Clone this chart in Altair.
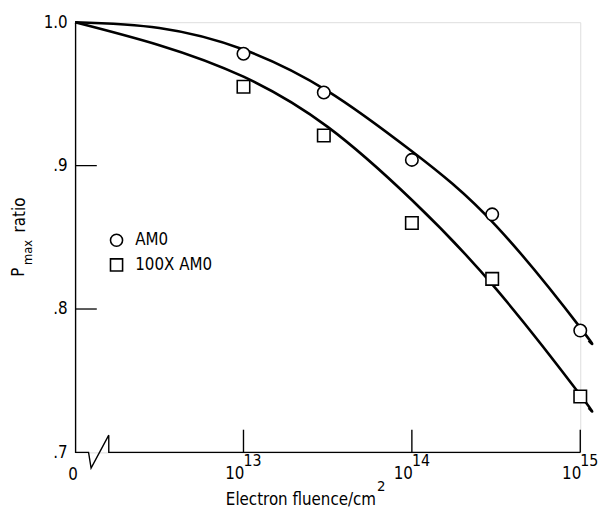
import altair as alt
import pandas as pd

# ---- data ----
series = ["AM0", "100X AM0"]
log_fluence = [13.0, 13.477, 14.0, 14.477, 15.0]      # log10(electron fluence / cm^2): 1e13, 3e13, 1e14, 3e14, 1e15
am0_ratio = [0.978, 0.951, 0.904, 0.866, 0.785]
x100_ratio = [0.955, 0.921, 0.860, 0.821, 0.739]

curve_x = [12.0, 12.5, 13.0, 13.5, 14.0, 14.5, 15.0, 15.05]
am0_curve = [1.0, 0.996, 0.981, 0.952, 0.910, 0.858, 0.787, 0.778]
x100_curve = [1.0, 0.984, 0.962, 0.927, 0.876, 0.814, 0.740, 0.731]

y_ticks = [0.7, 0.8, 0.9, 1.0]
y_inner_ticks = [0.8, 0.9]
x_ticks = [13, 14, 15]
x_exps = ["13", "14", "15"]

FONT = "Liberation Sans Narrow, DejaVu Sans Condensed, Roboto Condensed, DejaVu Sans"

pts = pd.DataFrame({
    "x": log_fluence * 2,
    "y": am0_ratio + x100_ratio,
    "series": [series[0]] * len(log_fluence) + [series[1]] * len(log_fluence),
})
curves = pd.DataFrame({
    "x": curve_x * 2,
    "y": am0_curve + x100_curve,
    "series": [series[0]] * len(curve_x) + [series[1]] * len(curve_x),
})

xs = alt.Scale(domain=[12, 15], nice=False, zero=False)
ys = alt.Scale(domain=[0.7, 1.0], nice=False, zero=False)
shape_scale = alt.Scale(domain=series, range=["circle", "square"])

yaxis = alt.Axis(
    values=y_ticks, ticks=False, grid=False, domain=True, domainColor="black",
    domainWidth=1.4, title=None, labelFont=FONT, labelFontSize=17, labelColor="black",
    labelPadding=8,
    labelExpr="datum.value >= 1 ? '1.0' : '.' + format(datum.value * 10, '.0f')",
)

curve_layer = alt.Chart(curves).mark_line(
    color="black", strokeWidth=2.6, interpolate="natural"
).encode(
    x=alt.X("x:Q", scale=xs, axis=None),
    y=alt.Y("y:Q", scale=ys, axis=yaxis),
    detail="series:N",
)

point_layer = alt.Chart(pts).mark_point(
    filled=True, fill="white", stroke="black", strokeWidth=1.6, size=160, opacity=1
).encode(
    x=alt.X("x:Q", scale=xs),
    y=alt.Y("y:Q", scale=ys),
    shape=alt.Shape("series:N", scale=shape_scale, legend=None),
)

# legend drawn as marks (one row per series)
legend_layers = []
for k, name in enumerate(series):
    row_y = 221 + 25 * k
    d = pd.DataFrame({"series": [name]})
    legend_layers.append(
        alt.Chart(d).mark_point(
            filled=True, fill="white", stroke="black", strokeWidth=1.6, size=150, opacity=1
        ).encode(
            x=alt.value(42), y=alt.value(row_y),
            shape=alt.Shape("series:N", scale=shape_scale, legend=None),
        )
    )
    legend_layers.append(
        alt.Chart(d).mark_text(
            font=FONT, fontSize=17, color="black", align="left", baseline="middle"
        ).encode(x=alt.value(61), y=alt.value(row_y), text="series:N")
    )

# inward ticks on y axis
ytick_df = pd.DataFrame({"y": y_inner_ticks})
ytick_layer = alt.Chart(ytick_df).mark_rule(color="black", strokeWidth=1.3).encode(
    y=alt.Y("y:Q", scale=ys),
    x=alt.value(0),
    x2=alt.value(22),
)

# inward ticks on x axis
xtick_df = pd.DataFrame({"x": x_ticks})
xtick_layer = alt.Chart(xtick_df).mark_rule(color="black", strokeWidth=1.4).encode(
    x=alt.X("x:Q", scale=xs),
    y=alt.value(436),
    y2=alt.value(413),
)

# broken x axis line
brk = pd.DataFrame({
    "i": [0, 1, 2, 3, 4, 5],
    "x": [12.0, 12.08, 12.095, 12.2, 12.2, 15.0],
    "y": [0.7, 0.7, 0.689, 0.712, 0.7, 0.7],
})
axis_layer = alt.Chart(brk).mark_line(color="black", strokeWidth=1.4).encode(
    x=alt.X("x:Q", scale=xs),
    y=alt.Y("y:Q", scale=ys),
    order="i:Q",
)

# x tick labels 10^n
lab_df = pd.DataFrame({"x": x_ticks, "base": ["10"] * len(x_ticks), "exp": x_exps})
base_layer = alt.Chart(lab_df).mark_text(
    font=FONT, fontSize=17, color="black", align="right", baseline="alphabetic", dx=1
).encode(x=alt.X("x:Q", scale=xs), y=alt.value(463), text="base:N")
exp_layer = alt.Chart(lab_df).mark_text(
    font=FONT, fontSize=16, color="black", align="left", baseline="alphabetic", dx=0
).encode(x=alt.X("x:Q", scale=xs), y=alt.value(450), text="exp:N")

zero_layer = alt.Chart(pd.DataFrame({"x": [12.0], "t": ["0"]})).mark_text(
    font=FONT, fontSize=17, color="black", align="center", baseline="alphabetic", dx=-2
).encode(x=alt.X("x:Q", scale=xs), y=alt.value(464), text="t:N")

# axis titles
def txt(t, x, y, size, align="left", angle=0):
    return alt.Chart(pd.DataFrame({"t": [t]})).mark_text(
        font=FONT, fontSize=size, color="black", align=align,
        baseline="alphabetic", angle=angle,
    ).encode(x=alt.value(x), y=alt.value(y), text="t:N")

xt1 = txt("Electron fluence/cm", 305, 489, 17, align="right")
xt2 = txt("2", 306, 475, 15)
yt1 = txt("P", -52, 258, 17, angle=270)
yt2 = txt("max", -44, 246, 13, angle=270)
yt3 = txt("ratio", -51, 213, 17, angle=270)

chart = alt.layer(
    curve_layer, axis_layer, ytick_layer, xtick_layer, point_layer,
    *legend_layers,
    base_layer, exp_layer, zero_layer, xt1, xt2, yt1, yt2, yt3,
).properties(
    width=512, height=436,
    autosize=alt.AutoSizeParams(type="none"),
    padding={"left": 68, "top": 11, "right": 20, "bottom": 58},
).configure_view(stroke=None).configure(background="white")

chart.save("out.html", embed_options={"renderer": "svg", "actions": False})
